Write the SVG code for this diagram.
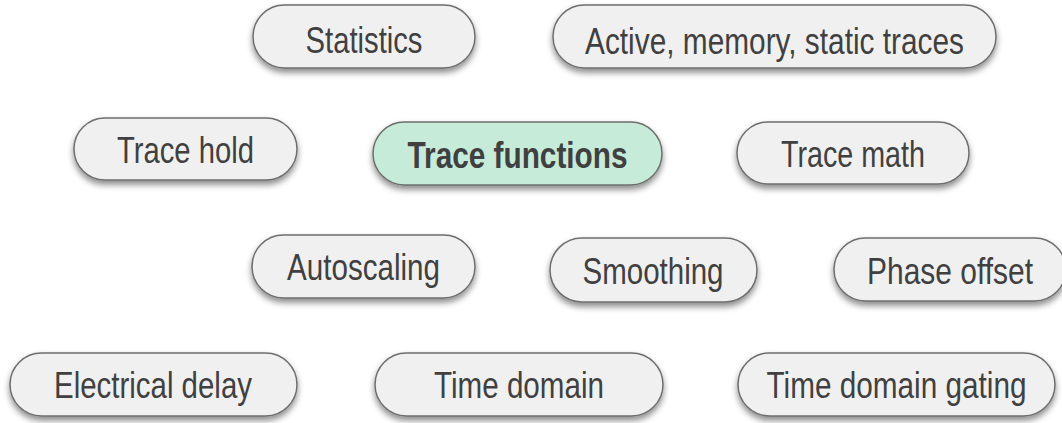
<svg xmlns="http://www.w3.org/2000/svg" width="1062" height="423" viewBox="0 0 1062 423">
<defs>
<filter id="sh" x="-10%" y="-20%" width="120%" height="160%">
<feDropShadow dx="0" dy="4" stdDeviation="3" flood-color="#000" flood-opacity="0.45"/>
</filter>
</defs>
<style>
.n rect{fill:#f0f0f0;stroke:#6e6e6e;stroke-width:1.5;filter:url(#sh)}
.n.main rect{fill:#c6ecd9}
.n text{font-family:"Liberation Sans Narrow","Liberation Sans",Arial,sans-serif;font-size:36px;fill:#404040;text-anchor:middle}
.n.main text{font-weight:bold}
</style>
<rect width="1062" height="423" fill="#fff"/>
<g id="connectors"/>
<g id="statistics" class="n"><rect x="253" y="5" width="222" height="63" rx="31.5"/><text x="364" y="53" textLength="117" lengthAdjust="spacingAndGlyphs">Statistics</text></g>
<g id="traces" class="n"><rect x="553" y="5" width="443" height="63" rx="31.5"/><text x="774.5" y="54" textLength="379" lengthAdjust="spacingAndGlyphs">Active, memory, static traces</text></g>
<g id="trace-hold" class="n"><rect x="74" y="118" width="223" height="62" rx="31"/><text x="185.5" y="163" textLength="137" lengthAdjust="spacingAndGlyphs">Trace hold</text></g>
<g id="trace-functions" class="n main"><rect x="373" y="122" width="289" height="63" rx="31.5"/><text x="517.5" y="168" textLength="220" lengthAdjust="spacingAndGlyphs">Trace functions</text></g>
<g id="trace-math" class="n"><rect x="737" y="122" width="232" height="62" rx="31"/><text x="853" y="167" textLength="144" lengthAdjust="spacingAndGlyphs">Trace math</text></g>
<g id="autoscaling" class="n"><rect x="252" y="235" width="223" height="63" rx="31.5"/><text x="363.5" y="280" textLength="153" lengthAdjust="spacingAndGlyphs">Autoscaling</text></g>
<g id="smoothing" class="n"><rect x="550" y="238" width="207" height="64" rx="32"/><text x="653" y="284" textLength="141" lengthAdjust="spacingAndGlyphs">Smoothing</text></g>
<g id="phase-offset" class="n"><rect x="834" y="238" width="232" height="63" rx="31.5"/><text x="950" y="284" textLength="166" lengthAdjust="spacingAndGlyphs">Phase offset</text></g>
<g id="electrical-delay" class="n"><rect x="10" y="353" width="287" height="63" rx="31.5"/><text x="153" y="398" textLength="198" lengthAdjust="spacingAndGlyphs">Electrical delay</text></g>
<g id="time-domain" class="n"><rect x="375" y="353" width="288" height="63" rx="31.5"/><text x="519" y="398" textLength="170" lengthAdjust="spacingAndGlyphs">Time domain</text></g>
<g id="time-domain-gating" class="n"><rect x="738" y="353" width="317" height="63" rx="31.5"/><text x="896.5" y="398" textLength="260" lengthAdjust="spacingAndGlyphs">Time domain gating</text></g>
</svg>
